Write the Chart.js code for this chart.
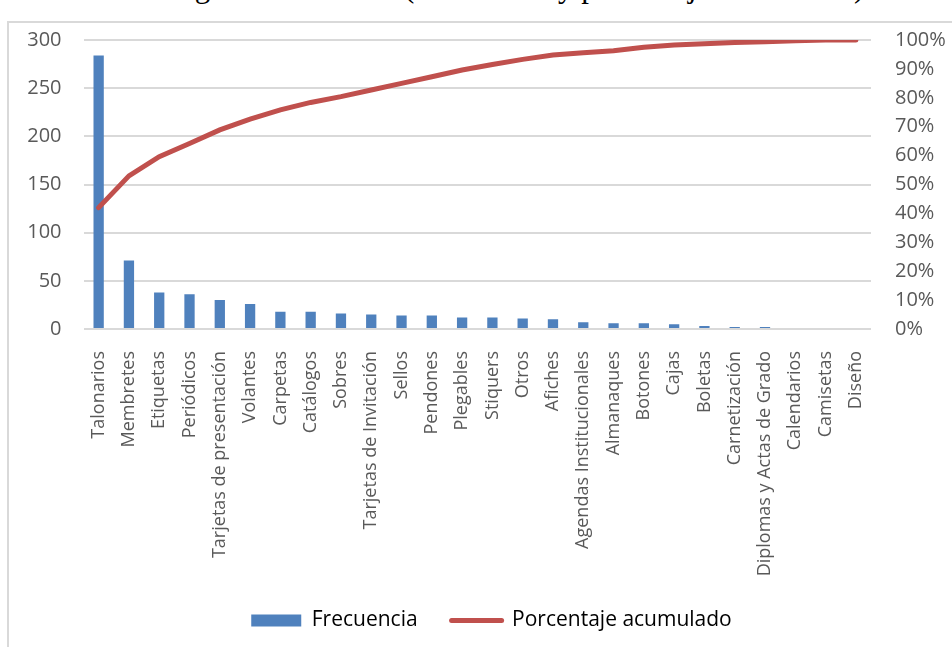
<!DOCTYPE html>
<html lang="es">
<head>
<meta charset="utf-8">
<title>Diagrama de Pareto</title>
<script src="https://cdn.jsdelivr.net/npm/chart.js@4.4.1/dist/chart.umd.min.js"></script>
<style>
    html, body { margin: 0; padding: 0; background: #fff; overflow: hidden; }
    #page { position: relative; width: 952px; height: 647px; overflow: hidden; }
    #docTitle { position: absolute; left: 150px; top: -30px; font-family: "Liberation Serif", serif; font-size: 31px; line-height: 34px; color: #000; white-space: nowrap; }
    #frame { position: absolute; left: 7px; top: 21px; width: 960px; height: 650px; border-left: 2px solid #d9d9d9; border-top: 2px solid #d9d9d9; }
    #paretoCanvas { position: absolute; left: 0; top: 0; }
</style>
</head>
<body>
<div id="page">
    <div id="docTitle">Diagrama de Pareto (Frecuencia y porcentaje acumulado)</div>
    <div id="frame"></div>
    <canvas id="paretoCanvas" width="956" height="647"></canvas>
</div>
<script>
"use strict";

const categorias = [
    "Talonarios", "Membretes", "Etiquetas", "Periódicos", "Tarjetas de presentación",
    "Volantes", "Carpetas", "Catálogos", "Sobres", "Tarjetas de Invitación",
    "Sellos", "Pendones", "Plegables", "Stiquers", "Otros", "Afiches",
    "Agendas Institucionales", "Almanaques", "Botones", "Cajas", "Boletas",
    "Carnetización", "Diplomas y Actas de Grado", "Calendarios", "Camisetas", "Diseño"
];

const frecuencia = [
    284, 71, 38, 36, 30, 26, 18, 18, 16, 15,
    14, 14, 12, 12, 11, 10, 7, 6, 6, 5,
    3, 2, 2, 0, 0, 0
];

// porcentaje acumulado (%)
const acumulado = [
    42, 53, 59.6, 64.2, 68.9, 72.6, 75.8, 78.4, 80.4, 82.7,
    85, 87.3, 89.6, 91.5, 93.3, 94.8, 95.6, 96.3, 97.5, 98.3,
    98.7, 99.1, 99.4, 99.7, 100, 100
];

const ticksFrecuencia = [0, 50, 100, 150, 200, 250, 300];
const ticksPorcentaje = [0, 10, 20, 30, 40, 50, 60, 70, 80, 90, 100];

(function() {
    const fontFamily = "'Open Sans', sans-serif";
    const textColor = "#595959";
    const blue = "#4f81bd";
    const red = "#c0504d";

    function Start() {
        let ctx = document.getElementById("paretoCanvas").getContext("2d");

        let chart = new Chart(ctx, {
            data: {
                labels: categorias,
                datasets: [{
                    type: "line",
                    label: "Porcentaje acumulado",
                    data: acumulado,
                    yAxisID: "y1",
                    borderColor: red,
                    backgroundColor: red,
                    borderWidth: 5,
                    pointRadius: 0,
                    tension: 0,
                    borderCapStyle: "round",
                    order: 0,
                }, {
                    type: "bar",
                    label: "Frecuencia",
                    data: frecuencia,
                    yAxisID: "y",
                    backgroundColor: blue,
                    barPercentage: 0.34,
                    categoryPercentage: 1,
                    order: 1,
                }],
            },
            options: {
                responsive: false,
                animation: false,
                layout: {
                    padding: { left: 27, right: 0, top: 40, bottom: 6 },
                },
                plugins: {
                    tooltip: { enabled: false },
                    legend: {
                        position: "bottom",
                        labels: {
                            usePointStyle: true,
                            pointStyleWidth: 50,
                            boxHeight: 12,
                            padding: 34,
                            color: textColor,
                            font: { family: fontFamily, size: 21 },
                            generateLabels: function() {
                                return [{
                                    text: "Frecuencia",
                                    fillStyle: blue,
                                    strokeStyle: blue,
                                    lineWidth: 0,
                                    pointStyle: "rect",
                                    datasetIndex: 1,
                                    hidden: false,
                                }, {
                                    text: "Porcentaje acumulado",
                                    fillStyle: red,
                                    strokeStyle: red,
                                    lineWidth: 5,
                                    lineCap: "round",
                                    pointStyle: "line",
                                    datasetIndex: 0,
                                    hidden: false,
                                }];
                            },
                        },
                    },
                },
                scales: {
                    x: {
                        grid: { display: false },
                        border: { display: false },
                        afterFit: function(axis) { axis.height = 247; },
                        ticks: {
                            color: textColor,
                            font: { family: fontFamily, size: 18 },
                            minRotation: 90,
                            maxRotation: 90,
                            autoSkip: false,
                            padding: 14,
                        },
                    },
                    y: {
                        position: "left",
                        min: 0,
                        max: 300,
                        afterBuildTicks: function(axis) {
                            axis.ticks = ticksFrecuencia.map(v => ({ value: v }));
                        },
                        afterFit: function(axis) { axis.width = 56.5; },
                        grid: { color: "#d9d9d9", lineWidth: 2, drawTicks: false },
                        border: { display: false },
                        ticks: {
                            color: textColor,
                            font: { family: fontFamily, size: 20 },
                            padding: 22,
                            autoSkip: false,
                        },
                    },
                    y1: {
                        position: "right",
                        min: 0,
                        max: 100,
                        afterBuildTicks: function(axis) {
                            axis.ticks = ticksPorcentaje.map(v => ({ value: v }));
                        },
                        afterFit: function(axis) { axis.width = 85; },
                        grid: { display: false, drawTicks: false },
                        border: { display: false },
                        ticks: {
                            color: textColor,
                            font: { family: fontFamily, size: 20 },
                            padding: 24,
                            autoSkip: false,
                            callback: function(value) { return value + "%"; },
                        },
                    },
                },
            },
        });
    }

    window.addEventListener("load", Start);
})();
</script>
</body>
</html>
